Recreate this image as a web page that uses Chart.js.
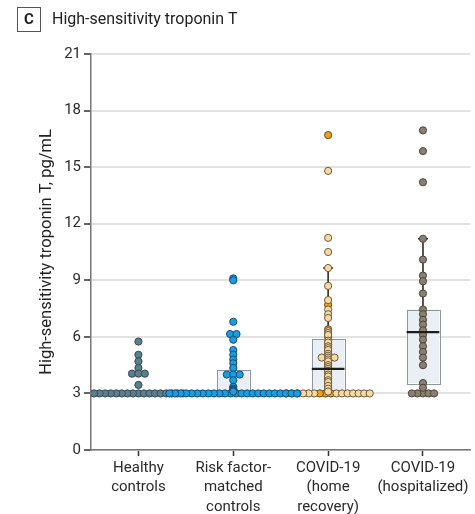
<!DOCTYPE html>
<html>
<head>
<meta charset="utf-8">
<script src="https://cdn.jsdelivr.net/npm/chart.js@4/dist/chart.umd.min.js"></script>
<style>
  html, body { margin: 0; padding: 0; background: #fff; }
  #wrap { width: 475px; height: 514px; position: relative; }
</style>
</head>
<body>
<div id="wrap"><canvas id="chart"></canvas></div>
<script>
// Group names (multi-line tick labels)
const groupLabels = [
  ['Healthy', 'controls'],
  ['Risk factor-', 'matched', 'controls'],
  ['COVID-19', '(home', 'recovery)'],
  ['COVID-19', '(hospitalized)']
];
const yTickValues = [0, 3, 6, 9, 12, 15, 18, 21];
const detectionLimit = 3;

// hs-TnT, pg/mL, per participant
const healthyValues = [5.75, 5.05, 4.7, 4.35, 4.05, 4.05, 4.05, 3.45,
  3, 3, 3, 3, 3, 3, 3, 3, 3, 3, 3, 3, 3, 3, 3, 3, 3];
const riskValues = [9.1, 9.0, 6.8, 6.15, 6.15, 5.85, 5.3, 5.05, 4.8, 4.6, 4.35,
  4.0, 4.0, 4.0, 3.7, 3.35, 3.25, 3.2, 3.15, 3.1,
  3, 3, 3, 3, 3, 3, 3, 3, 3, 3, 3, 3, 3, 3, 3, 3, 3, 3, 3, 3, 3, 3, 3, 3];
const homeOrangeValues = [16.7, 7.7, 6.4, 6.0, 5.6, 5.2, 4.6, 4.1, 3.8, 3.5, 3.3, 3.15, 3, 3, 3];
const homeBeigeValues = [14.8, 11.25, 10.5, 9.65, 8.7, 7.95, 7.45, 7.2, 7.0,
  6.3, 6.2, 6.1, 5.8, 5.7, 5.5, 5.4, 5.3, 5.1, 5.0, 4.9, 4.9, 4.9, 4.8, 4.7,
  4.5, 4.4, 4.3, 4.2, 4.0, 3.9, 3.7, 3.6, 3.4, 3.25, 3.1,
  3, 3, 3, 3, 3, 3, 3, 3, 3, 3, 3, 3, 3];
const hospitalValues = [16.95, 15.85, 14.2, 11.2, 10.1, 9.25, 8.95, 8.3, 7.45, 7.2,
  6.9, 6.65, 6.35, 6.1, 5.85, 5.5, 5.2, 4.9, 4.5, 3.55, 3.3, 3, 3, 3, 3, 3];

// Box plot summaries per group (null = not drawn)
const boxQ1 = [null, 3.0, 3.0, 3.55];
const boxMedian = [null, null, 4.3, 6.25];
const boxQ3 = [null, 4.25, 5.9, 7.45];
const whiskerHigh = [null, null, 9.65, 11.2];

// Swarm spacing, in x-axis units (one group = 1 unit)
const ROW_STEP = 0.0585;
const DUP_STEP = 0.068;
const BOX_HALF = 0.172;

const COLORS = {
  healthy: { fill: '#5d7e8b', edge: '#344a54' },
  risk: { fill: '#179fe2', edge: '#184a72' },
  orange: { fill: '#eea11b', edge: '#5e4a26' },
  beige: { fill: '#f8d9a2', edge: '#6a5a3c' },
  hospital: { fill: '#898071', edge: '#4c453b' }
};

// Values at the detection limit form a row; the rest stack in a column,
// identical values side by side.
function layoutGroup(items, center) {
  const out = [];
  const row = items.filter(p => p.v <= detectionLimit);
  const n = row.length;
  const slots = row.map((_, i) => (i - (n - 1) / 2) * ROW_STEP)
    .sort((a, b) => Math.abs(a) - Math.abs(b) || a - b);
  row.forEach((p, i) => out.push({ x: center + slots[i], y: p.v, c: p.c }));
  const byValue = new Map();
  items.filter(p => p.v > detectionLimit).forEach(p => {
    if (!byValue.has(p.v)) byValue.set(p.v, []);
    byValue.get(p.v).push(p);
  });
  byValue.forEach((list, v) => list.forEach((p, i) =>
    out.push({ x: center + (i - (list.length - 1) / 2) * DUP_STEP, y: v, c: p.c })));
  return out;
}

function tag(values, color) { return values.map(v => ({ v, c: color })); }

function swarmDataset(points, order) {
  return {
    type: 'scatter',
    order,
    data: points.map(p => ({ x: p.x, y: p.y })),
    pointBackgroundColor: points.map(p => p.c.fill),
    pointBorderColor: points.map(p => p.c.edge),
    pointBorderWidth: 1,
    pointRadius: 3.6,
    pointHoverRadius: 3.6
  };
}

const healthyPts = layoutGroup(tag(healthyValues, COLORS.healthy), 1);
const riskPts = layoutGroup(tag(riskValues, COLORS.risk), 2);
const homePts = layoutGroup(tag(homeOrangeValues, COLORS.orange).concat(tag(homeBeigeValues, COLORS.beige)), 3);
const hospitalPts = layoutGroup(tag(hospitalValues, COLORS.hospital), 4);

const boxPlots = {
  id: 'boxPlots',
  beforeDatasetsDraw(chart) {
    const { ctx, scales: { x, y } } = chart;
    ctx.save();
    boxQ1.forEach((q1, i) => {
      if (q1 == null) return;
      const cx = x.getPixelForValue(i + 1);
      const hw = x.getPixelForValue(i + 1 + BOX_HALF) - cx;
      const top = y.getPixelForValue(boxQ3[i]);
      const bot = y.getPixelForValue(q1);
      if (whiskerHigh[i] != null) {
        const wy = y.getPixelForValue(whiskerHigh[i]);
        ctx.strokeStyle = '#2b2b2b';
        ctx.lineWidth = 1.6;
        ctx.beginPath();
        ctx.moveTo(cx, top); ctx.lineTo(cx, wy);
        ctx.moveTo(cx - 5, wy); ctx.lineTo(cx + 5, wy);
        ctx.stroke();
      }
      ctx.fillStyle = '#e9eff4';
      ctx.fillRect(cx - hw, top, hw * 2, bot - top);
      ctx.strokeStyle = '#8f969c';
      ctx.lineWidth = 1;
      ctx.strokeRect(Math.round(cx - hw) + 0.5, Math.round(top) + 0.5, Math.round(hw * 2), Math.round(bot - top));
    });
    ctx.restore();
  },
  afterDatasetsDraw(chart) {
    const { ctx, scales: { x, y } } = chart;
    ctx.save();
    ctx.strokeStyle = '#1e1e1e';
    ctx.lineWidth = 2.4;
    boxMedian.forEach((m, i) => {
      if (m == null || boxQ1[i] == null) return;
      const cx = x.getPixelForValue(i + 1);
      const hw = x.getPixelForValue(i + 1 + BOX_HALF) - cx;
      const my = y.getPixelForValue(m);
      ctx.beginPath();
      ctx.moveTo(cx - hw, my); ctx.lineTo(cx + hw, my);
      ctx.stroke();
    });
    ctx.restore();
  }
};

const panelTitle = {
  id: 'panelTitle',
  afterDraw(chart) {
    const ctx = chart.ctx;
    ctx.save();
    ctx.strokeStyle = '#555';
    ctx.lineWidth = 1;
    ctx.strokeRect(17.5, 7.5, 23, 24);
    ctx.fillStyle = '#222';
    ctx.font = 'bold 15px Roboto';
    ctx.textAlign = 'center';
    ctx.textBaseline = 'middle';
    ctx.fillText('C', 29, 20);
    ctx.font = '16px Roboto';
    ctx.textAlign = 'left';
    ctx.fillText('High-sensitivity troponin T', 52, 20);
    ctx.restore();
  }
};

new Chart(document.getElementById('chart'), {
  type: 'scatter',
  data: {
    datasets: [
      swarmDataset(riskPts, 0),
      swarmDataset(homePts, 1),
      swarmDataset(healthyPts, 2),
      swarmDataset(hospitalPts, 3)
    ]
  },
  options: {
    responsive: true,
    maintainAspectRatio: false,
    animation: false,
    events: [],
    layout: { padding: { top: 54, right: 1, left: 0, bottom: 0 } },
    plugins: { legend: { display: false }, tooltip: { enabled: false } },
    scales: {
      x: {
        type: 'linear',
        min: 0.5,
        max: 4.5,
        afterBuildTicks: s => { s.ticks = groupLabels.map((_, i) => ({ value: i + 1 })); },
        afterFit: s => { s.height = 64; },
        grid: { drawOnChartArea: false, drawTicks: true, tickLength: 6, tickColor: '#333', tickWidth: 1.5 },
        border: { color: '#777', width: 1.5 },
        ticks: {
          callback: v => groupLabels[v - 1],
          color: '#2a2a2a',
          font: { family: 'Roboto', size: 15, lineHeight: 1.3 },
          padding: 2,
          maxRotation: 0,
          autoSkip: false
        }
      },
      y: {
        min: 0,
        max: 21,
        afterBuildTicks: s => { s.ticks = yTickValues.map(v => ({ value: v })); },
        afterFit: s => { s.width = 91; },
        grid: { color: '#e2e2e2', lineWidth: 2, tickColor: '#333', tickLength: 7, tickWidth: 1.5 },
        border: { color: '#777', width: 1.5 },
        ticks: { color: '#2a2a2a', font: { family: 'Roboto', size: 15 }, padding: 3 },
        title: {
          display: true,
          text: 'High-sensitivity troponin T, pg/mL',
          color: '#222',
          font: { family: 'Roboto', size: 16.5 },
          padding: { top: 37, bottom: 0 }
        }
      }
    }
  },
  plugins: [boxPlots, panelTitle]
});
</script>
</body>
</html>
